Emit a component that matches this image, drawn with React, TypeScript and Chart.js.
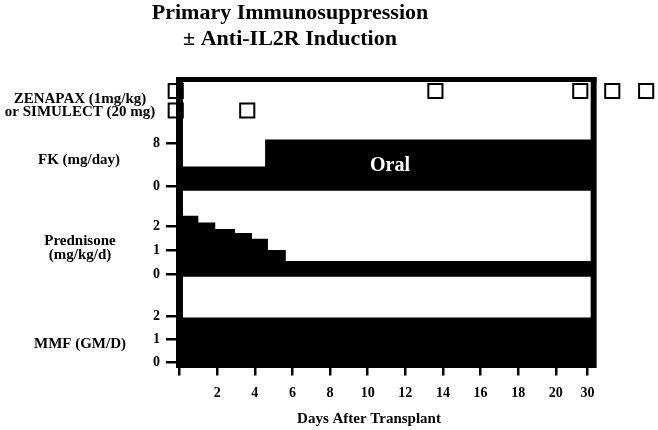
import React, { useEffect, useRef } from 'react';
import { Chart, registerables } from 'chart.js';

Chart.register(...registerables);

// ---- data ----
const titleLines = ['Primary Immunosuppression', '± Anti-IL2R Induction'];
const xTitle = 'Days After Transplant';

// x axis: days 0..20 linear, "30" drawn on a compressed (broken) axis position
const xTickValues = [0, 2, 4, 6, 8, 10, 12, 14, 16, 18, 20, 21.68];
const xTickLabels = ['', '2', '4', '6', '8', '10', '12', '14', '16', '18', '20', '30'];
const xMin = 0;
const frameEndDay = 22; // right edge of the boxed panels
const xAxisEnd = 25.43; // canvas edge, squares continue past the box

// induction doses (axis position of each square)
const inductionLabels = ['ZENAPAX (1mg/kg)', 'or SIMULECT (20 mg)'];
const zenapaxDays = [-0.2, 13.6, 21.3, 23.0, 24.8];
const simulectDays = [-0.2, 3.6];
const zenapaxRow = 1;
const simulectRow = 0;

// FK (mg/day)
const fkLabel = 'FK (mg/day)';
const fkDays = [0, 4.55, 22];
const fkDose = [3.65, 8.65, 8.65];
const fkBase = -0.87;
const fkTicks = [0, 4, 8];
const fkNote = 'Oral';

// Prednisone (mg/kg/d)
const predLabels = ['Prednisone', '(mg/kg/d)'];
const predDays = [0, 1, 1.9, 2.95, 3.85, 4.7, 5.65, 22];
const predDose = [2.43, 2.15, 1.88, 1.71, 1.47, 1.01, 0.55, 0.55];
const predBase = -0.1;
const predTicks = [0, 1, 2];

// MMF (GM/D)
const mmfLabel = 'MMF (GM/D)';
const mmfDays = [0, 22];
const mmfDose = [1.96, 1.96];
const mmfBase = -0.23;
const mmfTicks = [0, 1, 2];

// ---- styling ----
const serif = '"Liberation Serif", "Times New Roman", Times, serif';
const LEFT_AXIS_W = 179.5;

function yAxis(min: number, max: number, ticks: number[], weight: number, stackWeight: number) {
  return {
    type: 'linear',
    position: 'left',
    stack: 'panels',
    stackWeight,
    weight,
    min,
    max,
    bounds: 'data',
    afterBuildTicks: (s: any) => {
      s.ticks = ticks.map((v) => ({ value: v }));
    },
    afterFit: (s: any) => {
      s.width = LEFT_AXIS_W;
      s.paddingTop = 0;
      s.paddingBottom = 0;
    },
    grid: {
      display: true,
      drawOnChartArea: false,
      drawTicks: true,
      tickLength: 13.5,
      tickWidth: 2.5,
      lineWidth: 2.5,
      tickColor: '#000',
      color: '#000',
    },
    border: { display: false },
    ticks: {
      display: ticks.length > 0,
      color: '#000',
      padding: 6,
      font: { family: serif, size: 14, weight: 'bold' },
    },
  };
}

function stepSet(days: number[], dose: number[], base: number, axis: string) {
  return {
    type: 'line',
    yAxisID: axis,
    data: days.map((d, i) => ({ x: d, y: dose[i] })),
    stepped: true,
    borderColor: 'rgba(0,0,0,0)',
    borderWidth: 0,
    backgroundColor: '#000',
    pointRadius: 0,
    fill: { value: base },
  };
}

function squareSet(days: number[], row: number) {
  return {
    type: 'line',
    yAxisID: 'yInd',
    data: days.map((d) => ({ x: d, y: row })),
    showLine: false,
    pointStyle: 'rect',
    pointRadius: 10,
    pointBorderWidth: 2,
    pointBorderColor: '#000',
    pointBackgroundColor: 'rgba(0,0,0,0)',
    clip: false,
  };
}

const framePlugin = {
  id: 'frame',
  afterDatasetsDraw(chart: any) {
    const { ctx, chartArea, scales } = chart;
    const { left, top, bottom } = chartArea;
    const right = scales.x.getPixelForValue(frameEndDay);
    ctx.save();
    ctx.fillStyle = '#000';
    ctx.fillRect(left - 3.5, top - 2.5, 7, bottom - top + 2.5);
    ctx.fillRect(left - 3.5, top - 2.5, right - left + 6.5, 5);
    ctx.fillRect(right - 2.8, top - 2.5, 6, bottom - top + 2.5);
    ctx.restore();
  },
};

const textPlugin = {
  id: 'texts',
  afterDraw(chart: any) {
    const ctx = chart.ctx;
    ctx.save();
    ctx.fillStyle = '#000';
    ctx.textAlign = 'center';
    ctx.textBaseline = 'alphabetic';
    ctx.font = `bold 22px ${serif}`;
    ctx.fillText(titleLines[0], 290, 19);
    ctx.fillText(titleLines[1], 290, 45);

    ctx.font = `bold 15px ${serif}`;
    ctx.fillText(inductionLabels[0], 80, 103);
    ctx.fillText(inductionLabels[1], 80, 116);
    ctx.fillText(fkLabel, 79, 164);
    ctx.fillText(predLabels[0], 80, 245);
    ctx.fillText(predLabels[1], 80, 259);
    ctx.fillText(mmfLabel, 80, 348);
    ctx.fillText(xTitle, 369, 423);

    ctx.fillStyle = '#fff';
    ctx.font = `bold 20px ${serif}`;
    ctx.fillText(fkNote, 390, 171);
    ctx.restore();
  },
};

export default function App() {
  const ref = useRef<HTMLCanvasElement>(null);

  useEffect(() => {
    if (!ref.current) return;
    const chart = new Chart(ref.current, {
      type: 'line',
      data: {
        datasets: [
          squareSet(zenapaxDays, zenapaxRow),
          squareSet(simulectDays, simulectRow),
          stepSet(fkDays, fkDose, fkBase, 'yFK'),
          stepSet(predDays, predDose, predBase, 'yPred'),
          stepSet(mmfDays, mmfDose, mmfBase, 'yMMF'),
        ] as any,
      },
      options: {
        responsive: false,
        animation: false,
        devicePixelRatio: 1,
        events: [],
        layout: { autoPadding: false, padding: { top: 79.5, right: 0, bottom: 0, left: 0 } },
        plugins: {
          legend: { display: false },
          tooltip: { enabled: false },
          title: { display: false },
        },
        scales: {
          x: {
            type: 'linear',
            position: 'bottom',
            bounds: 'data',
            min: xMin,
            max: xAxisEnd,
            afterBuildTicks: (s: any) => {
              s.ticks = xTickValues.map((v) => ({ value: v }));
            },
            afterFit: (s: any) => {
              s.height = 62;
              s.paddingLeft = 0;
              s.paddingRight = 0;
            },
            grid: {
              display: true,
              drawOnChartArea: false,
              drawTicks: true,
              tickLength: 7.5,
              tickWidth: 2.5,
              lineWidth: 2.5,
              tickColor: '#000',
              color: '#000',
            },
            border: { display: false },
            ticks: {
              autoSkip: false,
              maxRotation: 0,
              color: '#000',
              padding: 9,
              font: { family: serif, size: 14, weight: 'bold' },
              callback: (value: any) => {
                const i = xTickValues.indexOf(Number(value));
                return i >= 0 ? xTickLabels[i] : '';
              },
            },
          },
          yInd: yAxis(-1.41, 1.59, [], 4, 58.5),
          yFK: yAxis(-2.6, 8.93, fkTicks, 3, 62),
          yPred: yAxis(-0.9, 3.08, predTicks, 2, 96),
          yMMF: yAxis(mmfBase, 2.9, mmfTicks, 1, 72),
        } as any,
      },
      plugins: [framePlugin, textPlugin],
    } as any);
    return () => chart.destroy();
  }, []);

  return (
    <div style={{ position: 'absolute', left: 0, top: 0, width: 658, height: 430, background: '#fff' }}>
      <canvas ref={ref} width={658} height={430} style={{ display: 'block' }} />
    </div>
  );
}
